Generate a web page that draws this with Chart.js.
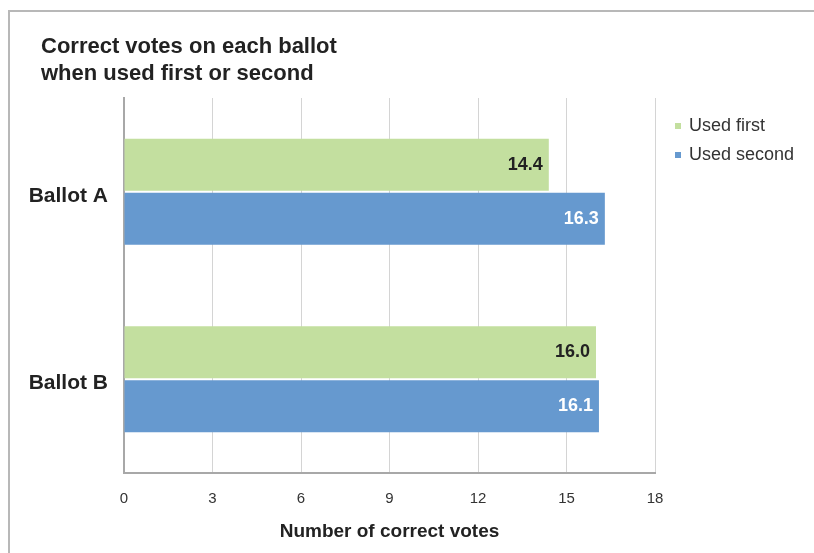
<!DOCTYPE html>
<html>
<head>
<meta charset="utf-8">
<script src="https://cdn.jsdelivr.net/npm/chart.js@4"></script>
<style>
  body { margin: 0; background: #fff; }
  #wrap { position: relative; width: 814px; height: 553px; overflow: hidden; }
  #frame { position: absolute; left: 8px; top: 10px; width: 900px; height: 700px; border: 2px solid #b8b8b8; }
  canvas { position: absolute; left: 0; top: 0; }
</style>
</head>
<body>
<div id="wrap">
  <div id="frame"></div>
  <canvas id="chart" width="814" height="553"></canvas>
</div>
<script>
// Chart data
const ballots = ['Ballot A', 'Ballot B'];
const usedFirst = [14.4, 16.0];
const usedSecond = [16.3, 16.1];
const seriesNames = ['Used first', 'Used second'];
const xTicks = [0, 3, 6, 9, 12, 15, 18];
const titleLines = ['Correct votes on each ballot', 'when used first or second'];

const green = '#c3df9f';
const blue = '#6699cf';
const font = "'Liberation Sans', Arial, sans-serif";

// two-line title at top left
const leftTitle = {
    id: 'leftTitle',
    afterDraw(chart) {
        const ctx = chart.ctx;
        ctx.save();
        ctx.font = 'bold 22px ' + font;
        ctx.fillStyle = '#222';
        ctx.textAlign = 'left';
        ctx.textBaseline = 'alphabetic';
        titleLines.forEach((line, i) => ctx.fillText(line, 41, 53 + i * 27));
        ctx.restore();
    }
};

// value labels at the end of each bar
const barLabels = {
    id: 'barLabels',
    afterDatasetsDraw(chart) {
        const ctx = chart.ctx;
        ctx.save();
        ctx.font = 'bold 18px ' + font;
        ctx.textAlign = 'right';
        ctx.textBaseline = 'middle';
        chart.data.datasets.forEach((ds, i) => {
            const meta = chart.getDatasetMeta(i);
            meta.data.forEach((bar, j) => {
                ctx.fillStyle = i === 0 ? '#222' : '#fff';
                ctx.fillText(ds.data[j].toFixed(1), bar.x - 6, bar.y);
            });
        });
        ctx.restore();
    }
};

// legend at top right
const sideLegend = {
    id: 'sideLegend',
    afterDraw(chart) {
        const ctx = chart.ctx;
        ctx.save();
        ctx.font = '18px ' + font;
        ctx.textBaseline = 'middle';
        chart.data.datasets.forEach((ds, i) => {
            const y = 126 + i * 29;
            ctx.fillStyle = ds.backgroundColor;
            ctx.fillRect(675, y - 3, 6, 6);
            ctx.fillStyle = '#333';
            ctx.fillText(ds.label, 689, y);
        });
        ctx.restore();
    }
};

const ctx = document.getElementById('chart').getContext('2d');
new Chart(ctx, {
    type: 'bar',
    data: {
        labels: ballots,
        datasets: [
            { label: seriesNames[0], data: usedFirst, backgroundColor: green },
            { label: seriesNames[1], data: usedSecond, backgroundColor: blue }
        ]
    },
    options: {
        indexAxis: 'y',
        responsive: false,
        animation: false,
        barPercentage: 0.963,
        categoryPercentage: 0.576,
        layout: { padding: { left: 0, right: 159, top: 98, bottom: 0 } },
        plugins: {
            legend: { display: false },
            tooltip: { enabled: false },
            title: { display: false }
        },
        scales: {
            x: {
                min: 0,
                max: 18,
                afterBuildTicks(scale) {
                    scale.ticks = xTicks.map(v => ({ value: v }));
                },
                afterFit(scale) { scale.height = 80; },
                grid: { color: '#d4d4d4', lineWidth: 1, drawTicks: false },
                border: { display: true, color: '#a8a8a8', width: 2 },
                ticks: { color: '#333', padding: 17, font: { family: font, size: 15 } },
                title: {
                    display: true,
                    text: 'Number of correct votes',
                    color: '#222',
                    font: { family: font, size: 19, weight: 'bold', lineHeight: 1.2 },
                    padding: { top: 0, bottom: 10 }
                }
            },
            y: {
                afterFit(scale) { scale.width = 124; },
                grid: { display: false, drawTicks: false },
                border: { display: true, color: '#a8a8a8', width: 2 },
                ticks: { color: '#222', padding: 16, labelOffset: 4, font: { family: font, size: 21, weight: 'bold' } }
            }
        }
    },
    plugins: [barLabels, sideLegend, leftTitle]
});
</script>
</body>
</html>
